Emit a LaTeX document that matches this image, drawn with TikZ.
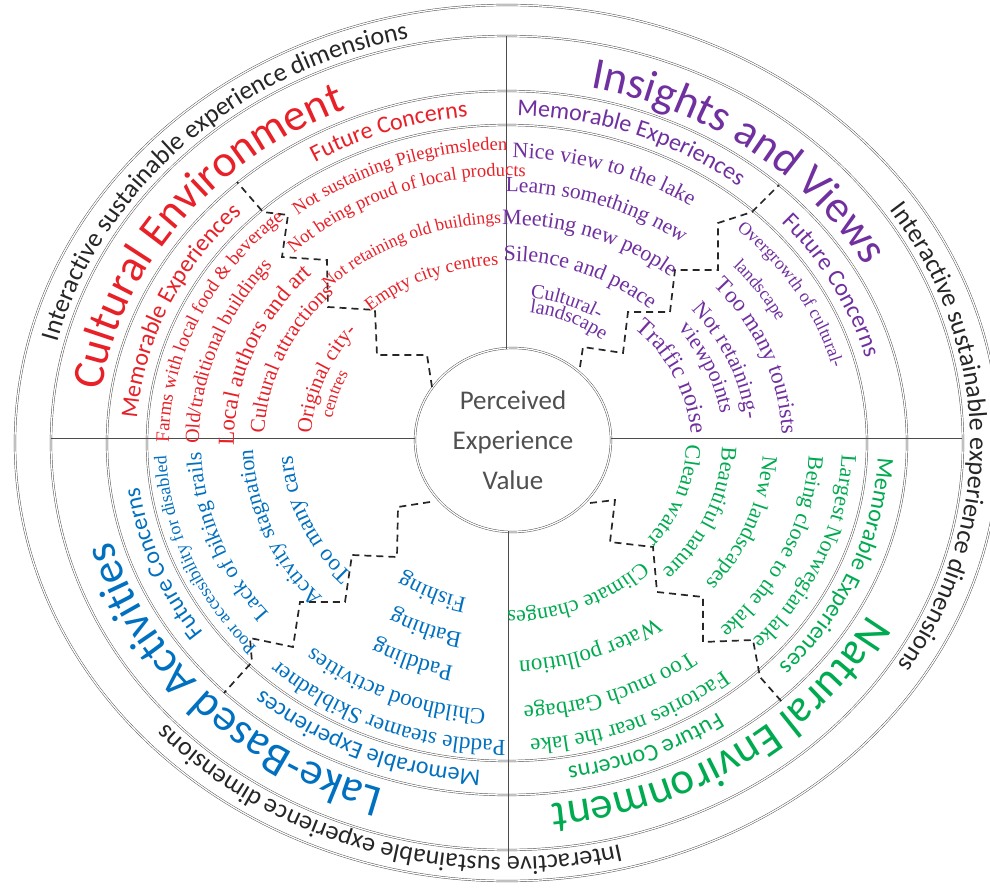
\documentclass[tikz,border=0pt]{standalone}
\usepackage{fontspec}
\newfontfamily\fcarl{Carlito}
\newfontfamily\ftimes{Liberation Serif}
\usetikzlibrary{decorations.text,shapes.geometric}
\definecolor{cred}{RGB}{232,32,40}
\definecolor{cpur}{RGB}{112,48,160}
\definecolor{cgrn}{RGB}{0,170,80}
\definecolor{cblu}{RGB}{0,112,192}
\definecolor{cgry}{RGB}{80,80,80}
% text on a clockwise elliptic arc: a, b, mid angle, half span, format, text
\newcommand\arctxt[6]{%
  \path[decorate,decoration={text along path,text align=center,text={|#5|#6}}]
    ({#3+#4}:#1 and #2) arc[start angle={#3+#4}, end angle={#3-#4}, x radius=#1, y radius=#2];}
\newcommand\itm[6]{\arctxt{#1}{#2}{#3}{35}{\ftimes\fontsize{#4}{#4}\selectfont\color{#5}}{#6}}
\newcommand\ttl[3]{\arctxt{410}{363}{#1}{40}{\fcarl\fontsize{45}{45}\selectfont\color{#2}}{#3}}
\newcommand\sub[3]{\arctxt{371}{328}{#1}{30}{\fcarl\fontsize{24}{24}\selectfont\color{#2}}{#3}}
\newcommand\outr[1]{\arctxt{463}{414}{#1}{45}{\fcarl\fontsize{26}{26}\selectfont\color{black!85}}{Interactive sustainable experience dimensions}}
\begin{document}
\begin{tikzpicture}[x=1pt,y=1pt,
  ring/.style={draw=black!70, line width=0.45pt, double=white, double distance=1.3pt},
  divl/.style={draw=black!70, line width=0.8pt},
  stair/.style={draw=black!85, line width=1.7pt, dash pattern=on 7pt off 5pt}]
\useasboundingbox (-507,-445) rectangle (483,443);
\fill[white] (-507,-445) rectangle (483,443);
% rings
\draw[ring] (0,0) ellipse [x radius=492, y radius=438];
\draw[ring] (0,0) ellipse [x radius=456, y radius=407];
\draw[ring] (0,0) ellipse [x radius=400, y radius=352];
\draw[ring] (0,0) ellipse [x radius=360, y radius=318];
% dividing lines
\coordinate (lt) at (-1,407); \coordinate (lb) at (1,-420);
\coordinate (ll) at (-456,5); \coordinate (lr) at (455,5);
\node[ring, ellipse, fill=white, minimum width=196pt, minimum height=184pt, inner sep=0pt,
  align=center, text=cgry, font=\fcarl\fontsize{27}{40}\selectfont] (pev) at (6,3)
  {Perceived\\Experience\\Value};
\draw[divl] (-1,94) -- (lt);
\draw[divl] (1,-88) -- (lb);
\draw[divl] (-92,5) -- (ll);
\draw[divl] (104,5) -- (lr);
% staircases
\draw[stair] (-75,56) -- (-80,88) -- (-130,88) -- (-132,133) -- (-179,136) -- (-180,183)
  -- (-225,186) -- (-219,228) -- (-244,231) -- (-270,261);
\draw[stair] (73,76) -- (76,96) -- (116,90) -- (121,131) -- (163,131) -- (168,173)
  -- (211,173) -- (211,220) -- (245,231) -- (272,258);
\draw[stair] (83,-60) -- (108,-57) -- (103,-99) -- (146,-104) -- (150,-149) -- (196,-154)
  -- (196,-199) -- (246,-197) -- (253,-234) -- (275,-259);
\draw[stair] (-77,-59) -- (-109,-64) -- (-110,-114) -- (-155,-112) -- (-162,-159) -- (-207,-159)
  -- (-214,-204) -- (-257,-195) -- (-255,-219) -- (-283,-250);
% outer texts
\outr{134.8}
\outr{0.9}
\outr{-107}
% titles
\ttl{143}{cred}{Cultural Environment}
\ttl{52.9}{cpur}{Insights and Views}
\ttl{-55.4}{cgrn}{Natural Environment}
\ttl{-136.6}{cblu}{Lake-Based Activities}
% subheads
\sub{156}{cred}{Memorable Experiences}
\sub{109}{cred}{Future Concerns}
\sub{69.6}{cpur}{Memorable Experiences}
\sub{28}{cpur}{Future Concerns}
\sub{-22.3}{cgrn}{Memorable Experiences}
\sub{-67.5}{cgrn}{Future Concerns}
\sub{-113}{cblu}{Memorable Experiences}
\sub{-159}{cblu}{Future Concerns}
% red items
\itm{338}{298}{156}{19}{cred}{Farms with local food {\&} beverage}
\itm{308}{273}{160.4}{20}{cred}{Old/traditional buildings}
\itm{273}{241}{158.5}{23}{cred}{Local authors and art}
\itm{243}{214}{157}{21}{cred}{Cultural attractions}
\itm{196}{173}{159}{21}{cred}{Original city-}
\itm{177}{156}{163}{17}{cred}{centres}
\itm{332}{293}{110}{18.5}{cred}{Not sustaining Pilegrimsleden}
\itm{303}{267}{111}{18.5}{cred}{Not being proud of local products}
\itm{250}{220}{114}{17.5}{cred}{Not retaining old buildings}
\itm{202}{178}{113}{18.5}{cred}{Empty city centres}
% purple items
\itm{329}{285}{72}{22}{cpur}{Nice view to the lake}
\itm{289}{251}{71}{21.5}{cpur}{Learn something new}
\itm{252}{218}{69.8}{22}{cpur}{Meeting new people}
\itm{210}{182}{68.5}{22}{cpur}{Silence and peace}
\itm{170}{147}{69}{20}{cpur}{Cultural-}
\itm{152}{132}{65.5}{20}{cpur}{landscape}
\itm{337}{292}{30}{18}{cpur}{Overgrowth of cultural-}
\itm{304}{264}{33.5}{18}{cpur}{landscape}
\itm{275}{238}{21}{23}{cpur}{Too many tourists}
\itm{240}{208}{22.4}{22}{cpur}{Not retaining-}
\itm{216}{187}{22.4}{22}{cpur}{viewpoints}
\itm{184}{159}{24}{24}{cpur}{Traffic noise}
% green items
\itm{335}{291}{-21.9}{22}{cgrn}{Largest Norwegian lake}
\itm{302}{262}{-23.4}{22}{cgrn}{Being close to the lake}
\itm{256}{222}{-20.4}{22}{cgrn}{New landscapes}
\itm{215}{186}{-21.8}{22}{cgrn}{Beautiful nature}
\itm{179}{155}{-19}{22}{cgrn}{Clean water}
\itm{336}{297}{-67.5}{23}{cgrn}{Factories near the lake}
\itm{299}{264}{-69}{23}{cgrn}{Too much Garbage}
\itm{247}{218}{-69.6}{23}{cgrn}{Water pollution}
\itm{190}{168}{-67}{22}{cgrn}{Climate changes}
% blue items
\itm{336}{297}{-112}{23}{cblu}{Paddle steamer Skibladner}
\itm{302}{267}{-112.5}{23}{cblu}{Childhood activities}
\itm{259}{228}{-111.8}{23}{cblu}{Paddling}
\itm{220}{194}{-112}{23}{cblu}{Bathing}
\itm{180}{159}{-114.8}{23}{cblu}{Fishing}
\itm{341}{301}{-157.9}{18}{cblu}{Poor accessibility for disabled}
\itm{306}{270}{-160}{22}{cblu}{Lack of biking trails}
\itm{254}{224}{-158}{22}{cblu}{Activity stagnation}
\itm{215}{190}{-156.7}{23}{cblu}{Too many cars}
\end{tikzpicture}
\end{document}
